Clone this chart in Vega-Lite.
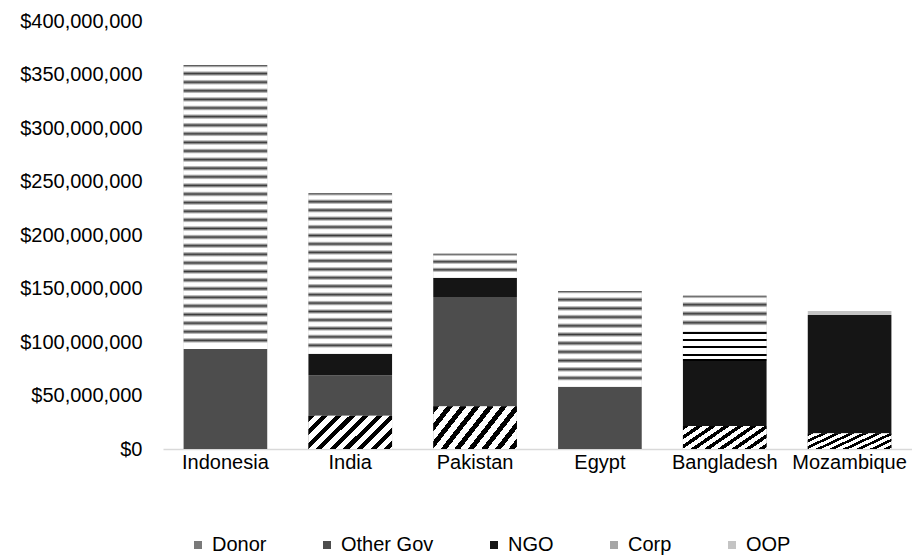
{
  "$schema": "https://vega.github.io/schema/vega-lite/v6.json",
  "width": 749,
  "height": 428,
  "autosize": "none",
  "padding": {"left": 163, "top": 21, "right": 0, "bottom": 110},
  "background": "white",
  "config": {
    "font": "Liberation Sans",
    "view": {"stroke": null}
  },
  "data": {
    "values": [
      {"country": "Indonesia", "source": "Other Gov", "layer": 2, "amount": 93500000},
      {"country": "Indonesia", "source": "OOP", "layer": 5, "amount": 265400000},
      {"country": "India", "source": "Donor", "layer": 1, "amount": 31000000},
      {"country": "India", "source": "Other Gov", "layer": 2, "amount": 38000000},
      {"country": "India", "source": "NGO", "layer": 3, "amount": 20000000},
      {"country": "India", "source": "OOP", "layer": 5, "amount": 150000000},
      {"country": "Pakistan", "source": "Donor", "layer": 1, "amount": 40000000},
      {"country": "Pakistan", "source": "Other Gov", "layer": 2, "amount": 102000000},
      {"country": "Pakistan", "source": "NGO", "layer": 3, "amount": 18000000},
      {"country": "Pakistan", "source": "OOP", "layer": 5, "amount": 22500000},
      {"country": "Egypt", "source": "Other Gov", "layer": 2, "amount": 58200000},
      {"country": "Egypt", "source": "OOP", "layer": 5, "amount": 89500000},
      {"country": "Bangladesh", "source": "Donor", "layer": 1, "amount": 21500000},
      {"country": "Bangladesh", "source": "NGO", "layer": 3, "amount": 60700000},
      {"country": "Bangladesh", "source": "Corp", "layer": 4, "amount": 27400000},
      {"country": "Bangladesh", "source": "OOP", "layer": 5, "amount": 33700000},
      {"country": "Mozambique", "source": "Donor", "layer": 1, "amount": 14700000},
      {"country": "Mozambique", "source": "NGO", "layer": 3, "amount": 110500000},
      {"country": "Mozambique", "source": "OOP", "layer": 5, "amount": 3800000}
    ]
  },
  "encoding": {
    "x": {
      "field": "country",
      "type": "nominal",
      "sort": ["Indonesia", "India", "Pakistan", "Egypt", "Bangladesh", "Mozambique"],
      "scale": {"paddingInner": 0.33, "paddingOuter": 0.165},
      "axis": {
        "title": null,
        "labelAngle": 0,
        "labelFontSize": 20,
        "labelColor": "#000000",
        "labelPadding": 3,
        "ticks": false,
        "domainColor": "#d9d9d9",
        "domainWidth": 1.5
      }
    },
    "y": {
      "field": "amount",
      "type": "quantitative",
      "stack": "zero",
      "scale": {"domain": [0, 400000000]},
      "axis": {
        "title": null,
        "format": "$,.0f",
        "values": [0, 50000000, 100000000, 150000000, 200000000, 250000000, 300000000, 350000000, 400000000],
        "labelOverlap": false,
        "grid": false,
        "domain": false,
        "ticks": false,
        "labelFontSize": 20,
        "labelColor": "#000000",
        "labelPadding": 21
      }
    },
    "order": {"field": "layer", "type": "quantitative", "sort": "ascending"}
  },
  "layer": [
    {
      "mark": {"type": "bar"},
      "encoding": {
        "color": {
          "field": "source",
          "type": "nominal",
          "scale": {
            "domain": ["Donor", "Other Gov", "NGO", "Corp", "OOP"],
            "range": ["#7a7a7a", "#4d4d4d", "#151515", "#a6a6a6", "#c4c4c4"]
          },
          "legend": {
            "title": null,
            "orient": "none",
            "direction": "horizontal",
            "legendX": 25,
            "legendY": 514,
            "symbolType": "square",
            "symbolSize": 64,
            "symbolStrokeWidth": 0,
            "labelFontSize": 20,
            "labelColor": "#000000",
            "labelOffset": 4,
            "columnPadding": 50
          }
        }
      }
    },
    {
      "mark": {"type": "bar"},
      "encoding": {
        "detail": {"field": "source", "type": "nominal"},
        "fill": {
          "condition": [
            {
              "test": "datum.source === 'Donor'",
              "value": {
                "gradient": "linear",
                "x1": 0, "y1": 0, "x2": 1.4, "y2": 0.56,
                "stops": [
                  {"offset": 0.0, "color": "#000000"}, {"offset": 0.045, "color": "#000000"}, {"offset": 0.045, "color": "#ffffff"}, {"offset": 0.1, "color": "#ffffff"},
                  {"offset": 0.1, "color": "#000000"}, {"offset": 0.145, "color": "#000000"}, {"offset": 0.145, "color": "#ffffff"}, {"offset": 0.2, "color": "#ffffff"},
                  {"offset": 0.2, "color": "#000000"}, {"offset": 0.245, "color": "#000000"}, {"offset": 0.245, "color": "#ffffff"}, {"offset": 0.3, "color": "#ffffff"},
                  {"offset": 0.3, "color": "#000000"}, {"offset": 0.345, "color": "#000000"}, {"offset": 0.345, "color": "#ffffff"}, {"offset": 0.4, "color": "#ffffff"},
                  {"offset": 0.4, "color": "#000000"}, {"offset": 0.445, "color": "#000000"}, {"offset": 0.445, "color": "#ffffff"}, {"offset": 0.5, "color": "#ffffff"},
                  {"offset": 0.5, "color": "#000000"}, {"offset": 0.545, "color": "#000000"}, {"offset": 0.545, "color": "#ffffff"}, {"offset": 0.6, "color": "#ffffff"},
                  {"offset": 0.6, "color": "#000000"}, {"offset": 0.645, "color": "#000000"}, {"offset": 0.645, "color": "#ffffff"}, {"offset": 0.7, "color": "#ffffff"},
                  {"offset": 0.7, "color": "#000000"}, {"offset": 0.745, "color": "#000000"}, {"offset": 0.745, "color": "#ffffff"}, {"offset": 0.8, "color": "#ffffff"},
                  {"offset": 0.8, "color": "#000000"}, {"offset": 0.845, "color": "#000000"}, {"offset": 0.845, "color": "#ffffff"}, {"offset": 0.9, "color": "#ffffff"},
                  {"offset": 0.9, "color": "#000000"}, {"offset": 0.945, "color": "#000000"}, {"offset": 0.945, "color": "#ffffff"}, {"offset": 1.0, "color": "#ffffff"}
                ]
              }
            },
            {
              "test": "datum.source === 'Corp'",
              "value": {
                "gradient": "linear",
                "x1": 0, "y1": 0, "x2": 0, "y2": 1,
                "stops": [
                  {"offset": 0.0, "color": "#000000"}, {"offset": 0.07, "color": "#000000"}, {"offset": 0.07, "color": "#ffffff"}, {"offset": 0.25, "color": "#ffffff"},
                  {"offset": 0.25, "color": "#000000"}, {"offset": 0.32, "color": "#000000"}, {"offset": 0.32, "color": "#ffffff"}, {"offset": 0.5, "color": "#ffffff"},
                  {"offset": 0.5, "color": "#000000"}, {"offset": 0.57, "color": "#000000"}, {"offset": 0.57, "color": "#ffffff"}, {"offset": 0.75, "color": "#ffffff"},
                  {"offset": 0.75, "color": "#000000"}, {"offset": 0.82, "color": "#000000"}, {"offset": 0.82, "color": "#ffffff"}, {"offset": 0.93, "color": "#ffffff"},
                  {"offset": 0.93, "color": "#000000"}, {"offset": 1.0, "color": "#000000"}
                ]
              }
            },
            {
              "test": "datum.source === 'OOP' && datum.country === 'Indonesia'",
              "value": {
                "gradient": "linear",
                "x1": 0, "y1": 0, "x2": 0, "y2": 1,
                "stops": [
                  {"offset": 0.0, "color": "#3a3a3a"}, {"offset": 0.0097, "color": "#ffffff"},
                  {"offset": 0.0206, "color": "#ffffff"}, {"offset": 0.0303, "color": "#3a3a3a"}, {"offset": 0.0400, "color": "#ffffff"},
                  {"offset": 0.0509, "color": "#ffffff"}, {"offset": 0.0606, "color": "#3a3a3a"}, {"offset": 0.0703, "color": "#ffffff"},
                  {"offset": 0.0812, "color": "#ffffff"}, {"offset": 0.0909, "color": "#3a3a3a"}, {"offset": 0.1006, "color": "#ffffff"},
                  {"offset": 0.1115, "color": "#ffffff"}, {"offset": 0.1212, "color": "#3a3a3a"}, {"offset": 0.1309, "color": "#ffffff"},
                  {"offset": 0.1418, "color": "#ffffff"}, {"offset": 0.1515, "color": "#3a3a3a"}, {"offset": 0.1612, "color": "#ffffff"},
                  {"offset": 0.1721, "color": "#ffffff"}, {"offset": 0.1818, "color": "#3a3a3a"}, {"offset": 0.1915, "color": "#ffffff"},
                  {"offset": 0.2024, "color": "#ffffff"}, {"offset": 0.2121, "color": "#3a3a3a"}, {"offset": 0.2218, "color": "#ffffff"},
                  {"offset": 0.2327, "color": "#ffffff"}, {"offset": 0.2424, "color": "#3a3a3a"}, {"offset": 0.2521, "color": "#ffffff"},
                  {"offset": 0.2630, "color": "#ffffff"}, {"offset": 0.2727, "color": "#3a3a3a"}, {"offset": 0.2824, "color": "#ffffff"},
                  {"offset": 0.2933, "color": "#ffffff"}, {"offset": 0.3030, "color": "#3a3a3a"}, {"offset": 0.3127, "color": "#ffffff"},
                  {"offset": 0.3236, "color": "#ffffff"}, {"offset": 0.3333, "color": "#3a3a3a"}, {"offset": 0.3430, "color": "#ffffff"},
                  {"offset": 0.3539, "color": "#ffffff"}, {"offset": 0.3636, "color": "#3a3a3a"}, {"offset": 0.3733, "color": "#ffffff"},
                  {"offset": 0.3842, "color": "#ffffff"}, {"offset": 0.3939, "color": "#3a3a3a"}, {"offset": 0.4036, "color": "#ffffff"},
                  {"offset": 0.4145, "color": "#ffffff"}, {"offset": 0.4242, "color": "#3a3a3a"}, {"offset": 0.4339, "color": "#ffffff"},
                  {"offset": 0.4448, "color": "#ffffff"}, {"offset": 0.4545, "color": "#3a3a3a"}, {"offset": 0.4642, "color": "#ffffff"},
                  {"offset": 0.4751, "color": "#ffffff"}, {"offset": 0.4848, "color": "#3a3a3a"}, {"offset": 0.4945, "color": "#ffffff"},
                  {"offset": 0.5055, "color": "#ffffff"}, {"offset": 0.5152, "color": "#3a3a3a"}, {"offset": 0.5249, "color": "#ffffff"},
                  {"offset": 0.5358, "color": "#ffffff"}, {"offset": 0.5455, "color": "#3a3a3a"}, {"offset": 0.5552, "color": "#ffffff"},
                  {"offset": 0.5661, "color": "#ffffff"}, {"offset": 0.5758, "color": "#3a3a3a"}, {"offset": 0.5855, "color": "#ffffff"},
                  {"offset": 0.5964, "color": "#ffffff"}, {"offset": 0.6061, "color": "#3a3a3a"}, {"offset": 0.6158, "color": "#ffffff"},
                  {"offset": 0.6267, "color": "#ffffff"}, {"offset": 0.6364, "color": "#3a3a3a"}, {"offset": 0.6461, "color": "#ffffff"},
                  {"offset": 0.6570, "color": "#ffffff"}, {"offset": 0.6667, "color": "#3a3a3a"}, {"offset": 0.6764, "color": "#ffffff"},
                  {"offset": 0.6873, "color": "#ffffff"}, {"offset": 0.6970, "color": "#3a3a3a"}, {"offset": 0.7067, "color": "#ffffff"},
                  {"offset": 0.7176, "color": "#ffffff"}, {"offset": 0.7273, "color": "#3a3a3a"}, {"offset": 0.7370, "color": "#ffffff"},
                  {"offset": 0.7479, "color": "#ffffff"}, {"offset": 0.7576, "color": "#3a3a3a"}, {"offset": 0.7673, "color": "#ffffff"},
                  {"offset": 0.7782, "color": "#ffffff"}, {"offset": 0.7879, "color": "#3a3a3a"}, {"offset": 0.7976, "color": "#ffffff"},
                  {"offset": 0.8085, "color": "#ffffff"}, {"offset": 0.8182, "color": "#3a3a3a"}, {"offset": 0.8279, "color": "#ffffff"},
                  {"offset": 0.8388, "color": "#ffffff"}, {"offset": 0.8485, "color": "#3a3a3a"}, {"offset": 0.8582, "color": "#ffffff"},
                  {"offset": 0.8691, "color": "#ffffff"}, {"offset": 0.8788, "color": "#3a3a3a"}, {"offset": 0.8885, "color": "#ffffff"},
                  {"offset": 0.8994, "color": "#ffffff"}, {"offset": 0.9091, "color": "#3a3a3a"}, {"offset": 0.9188, "color": "#ffffff"},
                  {"offset": 0.9297, "color": "#ffffff"}, {"offset": 0.9394, "color": "#3a3a3a"}, {"offset": 0.9491, "color": "#ffffff"},
                  {"offset": 0.9600, "color": "#ffffff"}, {"offset": 0.9697, "color": "#3a3a3a"}, {"offset": 0.9794, "color": "#ffffff"},
                  {"offset": 1.0, "color": "#ffffff"}
                ]
              }
            },
            {
              "test": "datum.source === 'OOP' && datum.country === 'India'",
              "value": {
                "gradient": "linear",
                "x1": 0, "y1": 0, "x2": 0, "y2": 1,
                "stops": [
                  {"offset": 0.0, "color": "#3a3a3a"}, {"offset": 0.0168, "color": "#ffffff"},
                  {"offset": 0.0358, "color": "#ffffff"}, {"offset": 0.0526, "color": "#3a3a3a"}, {"offset": 0.0694, "color": "#ffffff"},
                  {"offset": 0.0885, "color": "#ffffff"}, {"offset": 0.1053, "color": "#3a3a3a"}, {"offset": 0.1221, "color": "#ffffff"},
                  {"offset": 0.1411, "color": "#ffffff"}, {"offset": 0.1579, "color": "#3a3a3a"}, {"offset": 0.1747, "color": "#ffffff"},
                  {"offset": 0.1937, "color": "#ffffff"}, {"offset": 0.2105, "color": "#3a3a3a"}, {"offset": 0.2273, "color": "#ffffff"},
                  {"offset": 0.2464, "color": "#ffffff"}, {"offset": 0.2632, "color": "#3a3a3a"}, {"offset": 0.2800, "color": "#ffffff"},
                  {"offset": 0.2990, "color": "#ffffff"}, {"offset": 0.3158, "color": "#3a3a3a"}, {"offset": 0.3326, "color": "#ffffff"},
                  {"offset": 0.3516, "color": "#ffffff"}, {"offset": 0.3684, "color": "#3a3a3a"}, {"offset": 0.3852, "color": "#ffffff"},
                  {"offset": 0.4043, "color": "#ffffff"}, {"offset": 0.4211, "color": "#3a3a3a"}, {"offset": 0.4379, "color": "#ffffff"},
                  {"offset": 0.4569, "color": "#ffffff"}, {"offset": 0.4737, "color": "#3a3a3a"}, {"offset": 0.4905, "color": "#ffffff"},
                  {"offset": 0.5095, "color": "#ffffff"}, {"offset": 0.5263, "color": "#3a3a3a"}, {"offset": 0.5431, "color": "#ffffff"},
                  {"offset": 0.5621, "color": "#ffffff"}, {"offset": 0.5789, "color": "#3a3a3a"}, {"offset": 0.5957, "color": "#ffffff"},
                  {"offset": 0.6148, "color": "#ffffff"}, {"offset": 0.6316, "color": "#3a3a3a"}, {"offset": 0.6484, "color": "#ffffff"},
                  {"offset": 0.6674, "color": "#ffffff"}, {"offset": 0.6842, "color": "#3a3a3a"}, {"offset": 0.7010, "color": "#ffffff"},
                  {"offset": 0.7200, "color": "#ffffff"}, {"offset": 0.7368, "color": "#3a3a3a"}, {"offset": 0.7536, "color": "#ffffff"},
                  {"offset": 0.7727, "color": "#ffffff"}, {"offset": 0.7895, "color": "#3a3a3a"}, {"offset": 0.8063, "color": "#ffffff"},
                  {"offset": 0.8253, "color": "#ffffff"}, {"offset": 0.8421, "color": "#3a3a3a"}, {"offset": 0.8589, "color": "#ffffff"},
                  {"offset": 0.8779, "color": "#ffffff"}, {"offset": 0.8947, "color": "#3a3a3a"}, {"offset": 0.9115, "color": "#ffffff"},
                  {"offset": 0.9306, "color": "#ffffff"}, {"offset": 0.9474, "color": "#3a3a3a"}, {"offset": 0.9642, "color": "#ffffff"},
                  {"offset": 1.0, "color": "#ffffff"}
                ]
              }
            },
            {
              "test": "datum.source === 'OOP' && datum.country === 'Egypt'",
              "value": {
                "gradient": "linear",
                "x1": 0, "y1": 0, "x2": 0, "y2": 1,
                "stops": [
                  {"offset": 0.0, "color": "#3a3a3a"}, {"offset": 0.0291, "color": "#ffffff"},
                  {"offset": 0.0618, "color": "#ffffff"}, {"offset": 0.0909, "color": "#3a3a3a"}, {"offset": 0.1200, "color": "#ffffff"},
                  {"offset": 0.1527, "color": "#ffffff"}, {"offset": 0.1818, "color": "#3a3a3a"}, {"offset": 0.2109, "color": "#ffffff"},
                  {"offset": 0.2436, "color": "#ffffff"}, {"offset": 0.2727, "color": "#3a3a3a"}, {"offset": 0.3018, "color": "#ffffff"},
                  {"offset": 0.3345, "color": "#ffffff"}, {"offset": 0.3636, "color": "#3a3a3a"}, {"offset": 0.3927, "color": "#ffffff"},
                  {"offset": 0.4254, "color": "#ffffff"}, {"offset": 0.4545, "color": "#3a3a3a"}, {"offset": 0.4836, "color": "#ffffff"},
                  {"offset": 0.5164, "color": "#ffffff"}, {"offset": 0.5455, "color": "#3a3a3a"}, {"offset": 0.5746, "color": "#ffffff"},
                  {"offset": 0.6073, "color": "#ffffff"}, {"offset": 0.6364, "color": "#3a3a3a"}, {"offset": 0.6655, "color": "#ffffff"},
                  {"offset": 0.6982, "color": "#ffffff"}, {"offset": 0.7273, "color": "#3a3a3a"}, {"offset": 0.7564, "color": "#ffffff"},
                  {"offset": 0.7891, "color": "#ffffff"}, {"offset": 0.8182, "color": "#3a3a3a"}, {"offset": 0.8473, "color": "#ffffff"},
                  {"offset": 0.8800, "color": "#ffffff"}, {"offset": 0.9091, "color": "#3a3a3a"}, {"offset": 0.9382, "color": "#ffffff"},
                  {"offset": 1.0, "color": "#ffffff"}
                ]
              }
            },
            {
              "test": "datum.source === 'OOP' && datum.country === 'Bangladesh'",
              "value": {
                "gradient": "linear",
                "x1": 0, "y1": 0, "x2": 0, "y2": 1,
                "stops": [
                  {"offset": 0.0, "color": "#3a3a3a"}, {"offset": 0.08, "color": "#ffffff"},
                  {"offset": 0.17, "color": "#ffffff"}, {"offset": 0.25, "color": "#3a3a3a"}, {"offset": 0.33, "color": "#ffffff"},
                  {"offset": 0.42, "color": "#ffffff"}, {"offset": 0.5, "color": "#3a3a3a"}, {"offset": 0.58, "color": "#ffffff"},
                  {"offset": 0.67, "color": "#ffffff"}, {"offset": 0.75, "color": "#3a3a3a"}, {"offset": 0.83, "color": "#ffffff"},
                  {"offset": 1.0, "color": "#ffffff"}
                ]
              }
            },
            {
              "test": "datum.source === 'OOP' && datum.country === 'Pakistan'",
              "value": {
                "gradient": "linear",
                "x1": 0, "y1": 0, "x2": 0, "y2": 1,
                "stops": [
                  {"offset": 0.0, "color": "#3a3a3a"}, {"offset": 0.1067, "color": "#ffffff"},
                  {"offset": 0.2267, "color": "#ffffff"}, {"offset": 0.3333, "color": "#3a3a3a"}, {"offset": 0.44, "color": "#ffffff"},
                  {"offset": 0.56, "color": "#ffffff"}, {"offset": 0.6667, "color": "#3a3a3a"}, {"offset": 0.7733, "color": "#ffffff"},
                  {"offset": 1.0, "color": "#ffffff"}
                ]
              }
            }
          ],
          "value": null
        }
      }
    }
  ]
}
